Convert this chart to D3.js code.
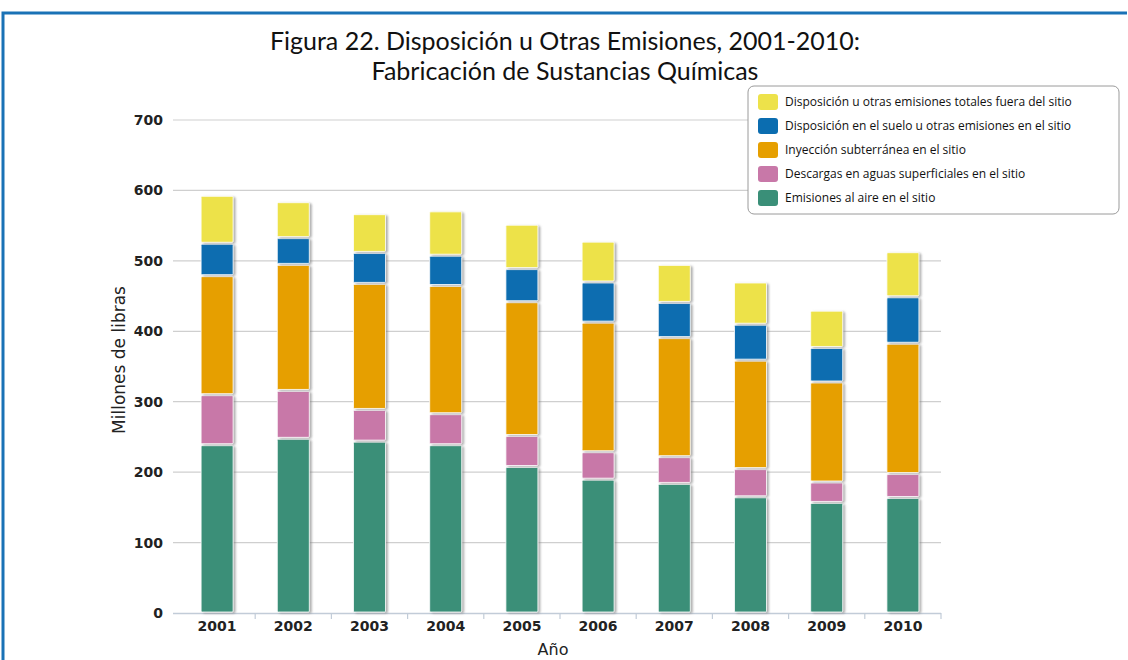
<!DOCTYPE html>
<html>
<head>
<meta charset="utf-8">
<script src="https://cdn.jsdelivr.net/npm/d3@7"></script>
<style>
  body { margin: 0; background: #fff; }
  svg { display: block; }
</style>
</head>
<body>
<div id="chart"></div>
<script>
// years on the x axis
var years = ["2001", "2002", "2003", "2004", "2005", "2006", "2007", "2008", "2009", "2010"];

// millions of pounds, one array per series (bottom to top)
var aire      = [239, 248, 244, 239, 208, 190, 184, 165, 157, 164];
var aguas     = [71, 68, 45, 44, 44, 39, 38, 40, 29, 34];
var inyeccion = [169, 179, 179, 182, 190, 184, 169, 154, 142, 185];
var suelo     = [46, 38, 44, 43, 47, 57, 50, 51, 49, 66];
var fuera     = [68, 51, 55, 63, 63, 58, 54, 60, 53, 64];

var seriesKeys = ["aire", "aguas", "inyeccion", "suelo", "fuera"];
var seriesNames = {
  aire: "Emisiones al aire en el sitio",
  aguas: "Descargas en aguas superficiales en el sitio",
  inyeccion: "Inyección subterránea en el sitio",
  suelo: "Disposición en el suelo u otras emisiones en el sitio",
  fuera: "Disposición u otras emisiones totales fuera del sitio"
};
var colors = {
  aire: "#3a8f78",
  aguas: "#c878a8",
  inyeccion: "#e69f00",
  suelo: "#0b6db0",
  fuera: "#ede24a"
};
var yTicks = [0, 100, 200, 300, 400, 500, 600, 700];

var W = 1128, H = 660;
var margin = {top: 120, right: 187, bottom: 47, left: 179};
var width = W - margin.left - margin.right,
    height = H - margin.top - margin.bottom;

// build rows for the stack
var rows = years.map(function(y, i) {
  return {year: y, aire: aire[i], aguas: aguas[i], inyeccion: inyeccion[i], suelo: suelo[i], fuera: fuera[i]};
});

var svg = d3.select("#chart").append("svg")
    .attr("width", W)
    .attr("height", H);

// drop shadow for bars
var defs = svg.append("defs");
var f = defs.append("filter").attr("id", "shadow")
    .attr("x", "-20%").attr("y", "-5%").attr("width", "150%").attr("height", "115%");
f.append("feDropShadow").attr("dx", 2).attr("dy", 1)
    .attr("stdDeviation", 1).attr("flood-color", "#777").attr("flood-opacity", 0.6);

// outer frame
svg.append("path")
    .attr("d", "M3," + H + " L3,13 L" + (W - 1) + ",13")
    .attr("fill", "none")
    .attr("stroke", "#1a72b6")
    .attr("stroke-width", 3);

// title
var title = svg.append("text")
    .attr("text-anchor", "middle")
    .attr("font-family", "Lato, 'Open Sans', sans-serif")
    .attr("font-size", 25)
    .attr("fill", "#111");
title.append("tspan").attr("x", 565).attr("y", 50)
    .text("Figura 22. Disposición u Otras Emisiones, 2001-2010:");
title.append("tspan").attr("x", 565).attr("y", 80)
    .text("Fabricación de Sustancias Químicas");

var g = svg.append("g")
    .attr("transform", "translate(" + margin.left + "," + margin.top + ")");

var x = d3.scaleBand()
    .domain(years)
    .range([0, width])
    .paddingInner(0.58)
    .paddingOuter(0.29);

var y = d3.scaleLinear()
    .domain([0, 700])
    .range([height, 0]);

// gridlines
g.append("g")
  .selectAll("line")
  .data(yTicks.filter(function(d) { return d > 0; }))
  .enter().append("line")
    .attr("x1", -6).attr("x2", width)
    .attr("y1", function(d) { return y(d); })
    .attr("y2", function(d) { return y(d); })
    .attr("stroke", "#cfcfcf")
    .attr("stroke-width", 1.2);

// y axis labels
var yAxis = g.append("g")
    .attr("transform", "translate(-6,0)")
    .call(d3.axisLeft(y).tickValues(yTicks).tickSize(0).tickPadding(10));
yAxis.select(".domain").remove();
yAxis.selectAll("text")
    .attr("font-family", "'DejaVu Sans', Verdana, sans-serif")
    .attr("font-weight", "bold")
    .attr("font-size", 14)
    .attr("fill", "#222");

// x axis
var step = x.step();
var xAxis = g.append("g")
    .attr("transform", "translate(0," + height + ")")
    .call(d3.axisBottom(x).tickSize(0).tickPadding(8));
xAxis.select(".domain")
    .attr("d", "M-6,0.5H" + width)
    .attr("stroke", "#c2ccd8")
    .attr("stroke-width", 1.5);
xAxis.selectAll("text")
    .attr("font-family", "'DejaVu Sans', Verdana, sans-serif")
    .attr("font-weight", "bold")
    .attr("font-size", 14)
    .attr("fill", "#222");
// category separator ticks
xAxis.selectAll(".sep")
  .data(d3.range(1, years.length + 1))
  .enter().append("line")
    .attr("class", "sep")
    .attr("x1", function(d) { return d * step; })
    .attr("x2", function(d) { return d * step; })
    .attr("y1", 0).attr("y2", 6)
    .attr("stroke", "#c2ccd8")
    .attr("stroke-width", 1.2);

// axis titles
svg.append("text")
    .attr("x", 553).attr("y", 655)
    .attr("text-anchor", "middle")
    .attr("font-family", "'DejaVu Sans', Verdana, sans-serif")
    .attr("font-size", 16)
    .attr("fill", "#222")
    .text("Año");

svg.append("text")
    .attr("transform", "translate(125,360) rotate(-90)")
    .attr("text-anchor", "middle")
    .attr("font-family", "'DejaVu Sans', Verdana, sans-serif")
    .attr("font-size", 17)
    .attr("fill", "#222")
    .text("Millones de libras");

// stacked bars
var stack = d3.stack().keys(seriesKeys);
var layers = stack(rows);

g.append("g").selectAll("g")
  .data(layers)
  .enter().append("g")
    .attr("fill", function(d) { return colors[d.key]; })
  .selectAll("rect")
  .data(function(d) { return d; })
  .enter().append("rect")
    .attr("x", function(d) { return x(d.data.year); })
    .attr("y", function(d) { return y(d[1]) + 1; })
    .attr("width", x.bandwidth())
    .attr("height", function(d) { return Math.max(0, y(d[0]) - y(d[1]) - 2); })
    .attr("rx", 1)
    .attr("stroke", "#fff")
    .attr("stroke-width", 0.8)
    .attr("filter", "url(#shadow)");

// legend
var legend = svg.append("g").attr("transform", "translate(748,86)");
legend.append("rect")
    .attr("width", 371).attr("height", 128)
    .attr("rx", 6)
    .attr("fill", "#fff")
    .attr("stroke", "#9a9a9a")
    .attr("stroke-width", 1);

var legendKeys = seriesKeys.slice().reverse();
var li = legend.selectAll(".li")
  .data(legendKeys)
  .enter().append("g")
    .attr("class", "li")
    .attr("transform", function(d, i) { return "translate(10," + (16 + i * 24) + ")"; });
li.append("rect")
    .attr("x", 0).attr("y", -8)
    .attr("width", 20).attr("height", 16)
    .attr("rx", 3)
    .attr("fill", function(d) { return colors[d]; });
li.append("text")
    .attr("x", 27).attr("y", 4)
    .attr("font-family", "'Open Sans', sans-serif")
    .attr("font-size", 12)
    .attr("fill", "#111")
    .text(function(d) { return seriesNames[d]; });
</script>
</body>
</html>
